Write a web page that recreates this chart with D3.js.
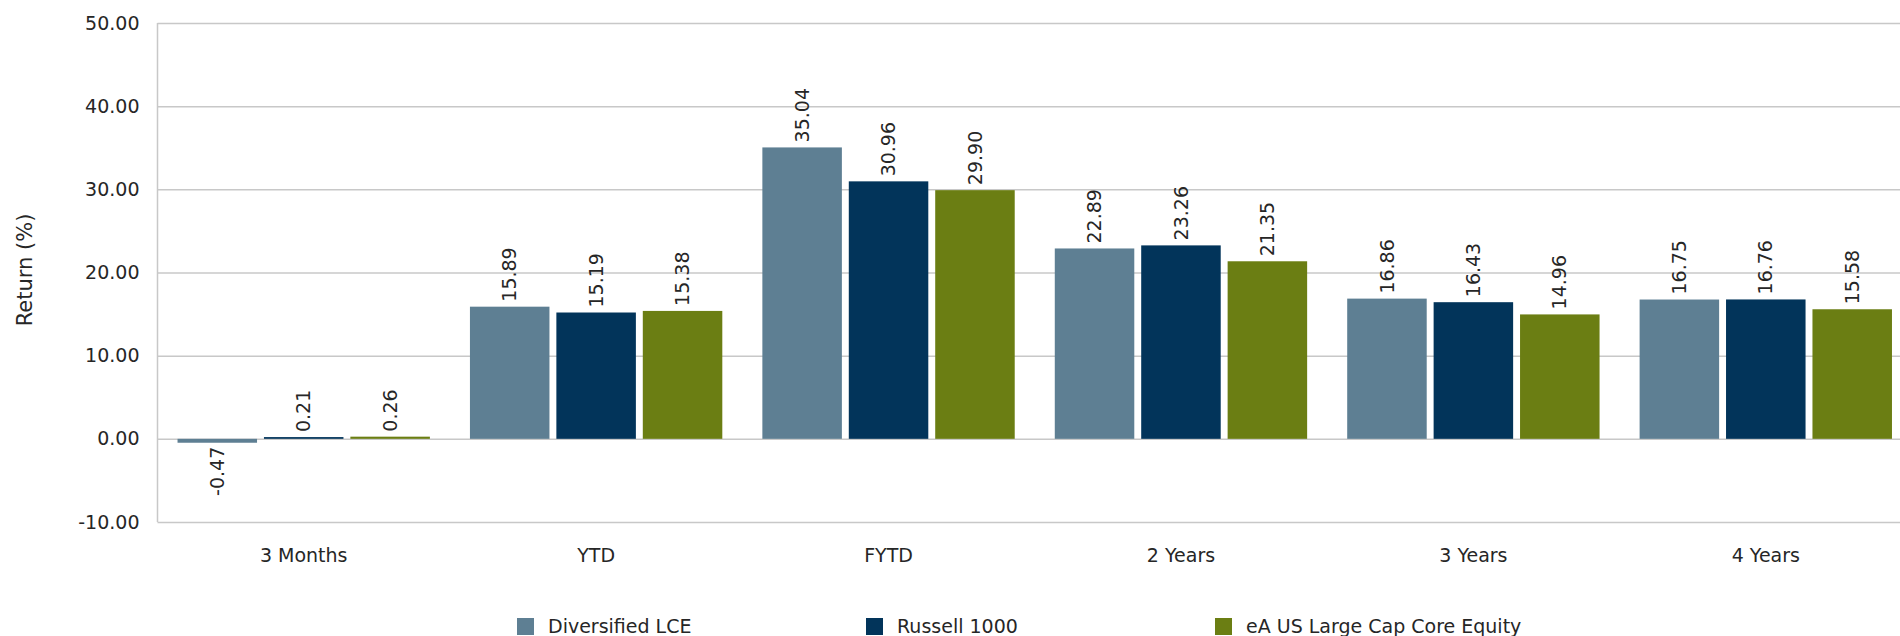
<!DOCTYPE html>
<html>
<head>
<meta charset="utf-8">
<script src="https://cdn.jsdelivr.net/npm/d3@7"></script>
<style>
  html, body { margin: 0; padding: 0; background: #ffffff; }
  svg { display: block; }
  text { font-family: "DejaVu Sans", "Liberation Sans", sans-serif; fill: #262626; }
</style>
</head>
<body>
<svg id="chart" width="1900" height="636"></svg>
<script>
// Trailing-period returns (%) by series
const categories = ["3 Months", "YTD", "FYTD", "2 Years", "3 Years", "4 Years"];
const seriesNames = ["Diversified LCE", "Russell 1000", "eA US Large Cap Core Equity"];
const diversifiedLCE = [-0.47, 15.89, 35.04, 22.89, 16.86, 16.75];
const russell1000 = [0.21, 15.19, 30.96, 23.26, 16.43, 16.76];
const eaLargeCapCore = [0.26, 15.38, 29.90, 21.35, 14.96, 15.58];
const yTicks = [-10, 0, 10, 20, 30, 40, 50];
const seriesColors = ["#5E7F93", "#02345A", "#6B7E13"];

const seriesValues = [diversifiedLCE, russell1000, eaLargeCapCore];
const rows = categories.map((c, i) => ({
  category: c,
  values: seriesNames.map((s, j) => ({ series: s, value: seriesValues[j][i], color: seriesColors[j] }))
}));

// Two-decimal format with a plain hyphen for negatives
const fmt = v => d3.format(".2f")(v).replace("\u2212", "-");

const svg = d3.select("#chart");
const plotLeft = 157.5, plotRight = 1912, plotTop = 23, plotBottom = 522;

const x0 = d3.scaleBand().domain(categories).range([plotLeft, plotRight])
  .paddingInner(0.137).paddingOuter(0.0685);
const x1 = d3.scaleBand().domain(seriesNames).range([0, x0.bandwidth()]).paddingInner(0.08);
const y = d3.scaleLinear().domain([-10, 50]).range([plotBottom, plotTop]);

// Horizontal gridlines
const grid = svg.append("g")
  .attr("transform", `translate(${plotLeft},0)`)
  .call(d3.axisLeft(y).tickValues(yTicks).tickSize(-(plotRight - plotLeft)).tickFormat(""));
grid.select(".domain").remove();
grid.selectAll("line").attr("stroke", "#C8C8C8").attr("stroke-width", 1.5);

// Left axis line
svg.append("line")
  .attr("x1", plotLeft).attr("x2", plotLeft)
  .attr("y1", y(50)).attr("y2", y(-10))
  .attr("stroke", "#C8C8C8").attr("stroke-width", 1.5);

// Y tick labels
const yAxis = svg.append("g")
  .attr("transform", `translate(${plotLeft},0)`)
  .call(d3.axisLeft(y).tickValues(yTicks).tickSize(0).tickPadding(18).tickFormat(fmt));
yAxis.select(".domain").remove();
yAxis.selectAll("text").style("font-size", "19px").style("font-family", "DejaVu Sans, sans-serif").attr("fill", "#262626");

// Y axis title
svg.append("text")
  .attr("transform", `translate(25,270) rotate(-90)`)
  .attr("text-anchor", "middle")
  .attr("dy", "0.35em")
  .style("font-size", "21px")
  .text("Return (%)");

// Bars
const groups = svg.append("g").selectAll("g")
  .data(rows).join("g")
  .attr("transform", d => `translate(${x0(d.category)},0)`);

groups.selectAll("rect")
  .data(d => d.values).join("rect")
  .attr("x", d => x1(d.series))
  .attr("width", x1.bandwidth())
  .attr("y", d => y(Math.max(0, d.value)))
  .attr("height", d => Math.abs(y(d.value) - y(0)))
  .attr("fill", d => d.color);

// Value labels, rotated
groups.selectAll("text.val")
  .data(d => d.values).join("text")
  .attr("class", "val")
  .attr("transform", d => {
    const cx = x1(d.series) + x1.bandwidth() / 2;
    const cy = d.value >= 0 ? y(d.value) - 5 : y(d.value) + 4;
    return `translate(${cx},${cy}) rotate(-90)`;
  })
  .attr("text-anchor", d => d.value >= 0 ? "start" : "end")
  .attr("dy", "0.35em")
  .style("font-size", "19px")
  .text(d => fmt(d.value));

// Category labels
const xAxis = svg.append("g")
  .attr("transform", `translate(0,${plotBottom})`)
  .call(d3.axisBottom(x0).tickSize(0).tickPadding(27));
xAxis.select(".domain").remove();
xAxis.selectAll("text").style("font-size", "19px").style("font-family", "DejaVu Sans, sans-serif").attr("fill", "#262626");

// Legend
const legendX = [517, 866, 1215];
const legend = svg.append("g").selectAll("g")
  .data(seriesNames).join("g")
  .attr("transform", (d, i) => `translate(${legendX[i]},618)`);
legend.append("rect")
  .attr("width", 17).attr("height", 17)
  .attr("fill", (d, i) => seriesColors[i]);
legend.append("text")
  .attr("x", 31).attr("y", 8.5).attr("dy", "0.35em")
  .style("font-size", "19px")
  .text(d => d);
</script>
</body>
</html>
